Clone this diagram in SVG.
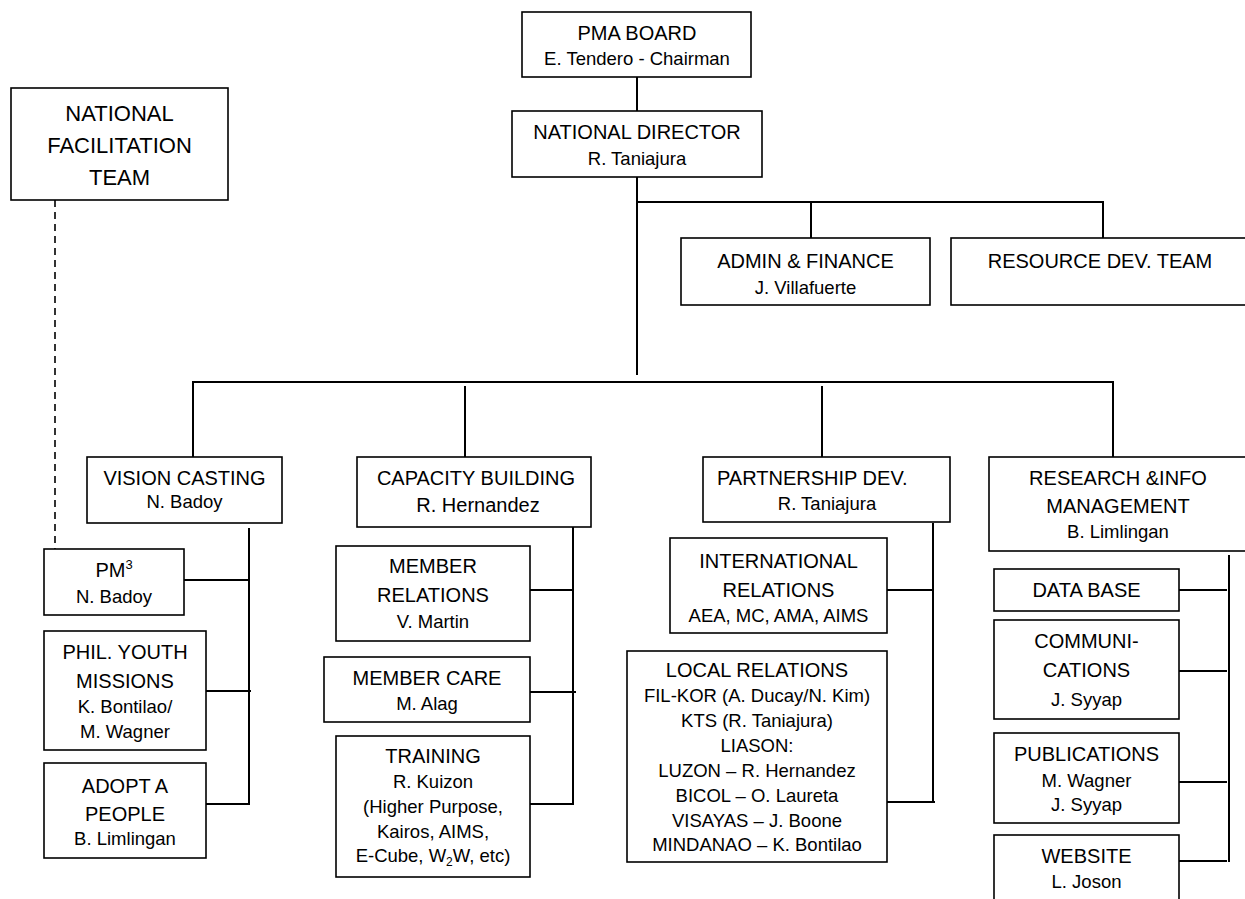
<svg xmlns="http://www.w3.org/2000/svg" width="1245" height="899" viewBox="0 0 1245 899">
<style>
.box{fill:#fff;stroke:#000;stroke-width:1.6}
.ln{fill:none;stroke:#000;stroke-width:2}
.dash{fill:none;stroke:#000;stroke-width:1.6;stroke-dasharray:7 5}
text{font-family:"Liberation Sans",Arial,sans-serif;fill:#000;text-anchor:middle}
.t{font-size:20px}
.s{font-size:18.5px}
.big{font-size:22px}
</style>
<rect width="1245" height="899" fill="#fff"/>
<g id="connectors">
<line class="ln" x1="637" y1="77" x2="637" y2="111"/>
<line class="ln" x1="637" y1="177" x2="637" y2="375"/>
<polyline class="ln" points="811,238 811,202 637,202 1103,202 1103,238"/>
<polyline class="ln" points="193,457 193,382 1113,382 1113,457"/>
<line class="ln" x1="465" y1="386" x2="465" y2="457"/>
<line class="ln" x1="822" y1="386" x2="822" y2="457"/>
<line class="dash" x1="55" y1="200" x2="55" y2="549"/>
<line class="ln" x1="249" y1="528" x2="249" y2="805"/>
<line class="ln" x1="184" y1="580" x2="249" y2="580"/>
<line class="ln" x1="206" y1="691" x2="251" y2="691"/>
<line class="ln" x1="206" y1="804" x2="249" y2="804"/>
<line class="ln" x1="573" y1="503" x2="573" y2="805"/>
<line class="ln" x1="530" y1="590" x2="573" y2="590"/>
<line class="ln" x1="530" y1="692" x2="576" y2="692"/>
<line class="ln" x1="530" y1="804" x2="573" y2="804"/>
<line class="ln" x1="933" y1="523" x2="933" y2="803"/>
<line class="ln" x1="887" y1="590" x2="933" y2="590"/>
<line class="ln" x1="887" y1="802" x2="935" y2="802"/>
<line class="ln" x1="1229" y1="555" x2="1229" y2="862"/>
<line class="ln" x1="1179" y1="590" x2="1227" y2="590"/>
<line class="ln" x1="1179" y1="671" x2="1227" y2="671"/>
<line class="ln" x1="1179" y1="782" x2="1227" y2="782"/>
<line class="ln" x1="1179" y1="861" x2="1227" y2="861"/>
</g>
<g id="pma-board"><rect class="box" x="522" y="12" width="229" height="65"/><text class="t" x="637" y="40">PMA BOARD</text><text class="s" x="637" y="65">E. Tendero - Chairman</text></g>
<g id="national-director"><rect class="box" x="512" y="111" width="250" height="66"/><text class="t" x="637" y="139">NATIONAL DIRECTOR</text><text class="s" x="637" y="165">R. Taniajura</text></g>
<g id="nft"><rect class="box" x="11" y="88" width="217" height="112"/><text class="big" x="119.5" y="121">NATIONAL</text><text class="big" x="119.5" y="153">FACILITATION</text><text class="big" x="119.5" y="185">TEAM</text></g>
<g id="admin"><rect class="box" x="681" y="238" width="249" height="67"/><text class="t" x="805.5" y="268">ADMIN &amp; FINANCE</text><text class="s" x="805.5" y="294">J. Villafuerte</text></g>
<g id="resource"><rect class="box" x="951" y="238" width="310" height="67"/><text class="t" x="1100" y="268">RESOURCE DEV. TEAM</text></g>
<g id="vision"><rect class="box" x="87" y="457" width="195" height="66"/><text class="t" x="184.5" y="485">VISION CASTING</text><text class="s" x="184.5" y="508">N. Badoy</text></g>
<g id="capacity"><rect class="box" x="357" y="457" width="234" height="70"/><text class="t" x="476" y="485">CAPACITY BUILDING</text><text class="t" x="478" y="512">R. Hernandez</text></g>
<g id="partnership"><rect class="box" x="703" y="457" width="247" height="65"/><text class="t" x="717" y="485" style="text-anchor:start">PARTNERSHIP DEV.</text><text class="s" x="827" y="510">R. Taniajura</text></g>
<g id="research"><rect class="box" x="989" y="457" width="270" height="94"/><text class="t" x="1118" y="485">RESEARCH &amp;INFO</text><text class="t" x="1118" y="513">MANAGEMENT</text><text class="s" x="1118" y="538">B. Limlingan</text></g>
<g id="pm3"><rect class="box" x="44" y="549" width="140" height="66"/><text class="t" x="114" y="577">PM<tspan font-size="13" dy="-8">3</tspan></text><text class="s" x="114" y="603">N. Badoy</text></g>
<g id="phil-youth"><rect class="box" x="44" y="631" width="162" height="119"/><text class="t" x="125" y="659">PHIL. YOUTH</text><text class="t" x="125" y="688">MISSIONS</text><text class="s" x="125" y="713">K. Bontilao/</text><text class="s" x="125" y="738">M. Wagner</text></g>
<g id="adopt"><rect class="box" x="44" y="763" width="162" height="95"/><text class="t" x="125" y="793">ADOPT A</text><text class="t" x="125" y="821">PEOPLE</text><text class="s" x="125" y="845">B. Limlingan</text></g>
<g id="member-relations"><rect class="box" x="336" y="546" width="194" height="95"/><text class="t" x="433" y="573">MEMBER</text><text class="t" x="433" y="602">RELATIONS</text><text class="s" x="433" y="628">V. Martin</text></g>
<g id="member-care"><rect class="box" x="324" y="657" width="206" height="65"/><text class="t" x="427" y="685">MEMBER CARE</text><text class="s" x="427" y="710">M. Alag</text></g>
<g id="training"><rect class="box" x="336" y="736" width="194" height="141"/><text class="t" x="433" y="763">TRAINING</text><text class="s" x="433" y="788">R. Kuizon</text><text class="s" x="433" y="813">(Higher Purpose,</text><text class="s" x="433" y="838">Kairos, AIMS,</text><text class="s" x="433" y="862">E-Cube, W<tspan font-size="12" dy="4">2</tspan><tspan dy="-4">W, etc)</tspan></text></g>
<g id="international"><rect class="box" x="670" y="538" width="217" height="95"/><text class="t" x="778.5" y="568">INTERNATIONAL</text><text class="t" x="778.5" y="597">RELATIONS</text><text class="s" x="778.5" y="622">AEA, MC, AMA, AIMS</text></g>
<g id="local"><rect class="box" x="627" y="651" width="260" height="211"/><text class="t" x="757" y="677">LOCAL RELATIONS</text><text class="s" x="757" y="702">FIL-KOR (A. Ducay/N. Kim)</text><text class="s" x="757" y="727">KTS (R. Taniajura)</text><text class="s" x="757" y="752">LIASON:</text><text class="s" x="757" y="777">LUZON – R. Hernandez</text><text class="s" x="757" y="802">BICOL – O. Laureta</text><text class="s" x="757" y="827">VISAYAS – J. Boone</text><text class="s" x="757" y="851">MINDANAO – K. Bontilao</text></g>
<g id="database"><rect class="box" x="994" y="569" width="185" height="42"/><text class="t" x="1086.5" y="597">DATA BASE</text></g>
<g id="communications"><rect class="box" x="994" y="620" width="185" height="99"/><text class="t" x="1086.5" y="648">COMMUNI-</text><text class="t" x="1086.5" y="677">CATIONS</text><text class="s" x="1086.5" y="706">J. Syyap</text></g>
<g id="publications"><rect class="box" x="994" y="733" width="185" height="90"/><text class="t" x="1086.5" y="761">PUBLICATIONS</text><text class="s" x="1086.5" y="787">M. Wagner</text><text class="s" x="1086.5" y="811">J. Syyap</text></g>
<g id="website"><rect class="box" x="994" y="835" width="185" height="80"/><text class="t" x="1086.5" y="863">WEBSITE</text><text class="s" x="1086.5" y="888">L. Joson</text></g>
</svg>
